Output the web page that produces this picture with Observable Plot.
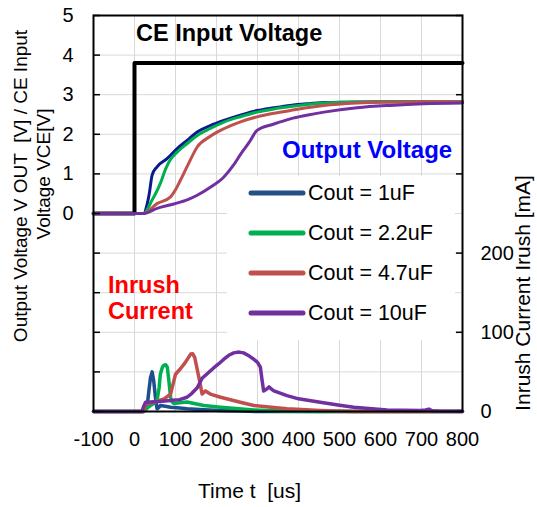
<!DOCTYPE html>
<html><head><meta charset="utf-8">
<script src="https://cdn.jsdelivr.net/npm/d3@7"></script>
<script src="https://cdn.jsdelivr.net/npm/@observablehq/plot@0.6"></script>
<style>body{margin:0;background:#fff}#chart{width:537px;height:507px}</style>
</head><body><div id="chart"></div>
<script>
// ---- axis ticks ----
const xTicks = [-100, 0, 100, 200, 300, 400, 500, 600, 700, 800];
const leftTickLabels = [0, 1, 2, 3, 4, 5];
const leftTickMarks = [-5, -4, -3, -2, -1, 0, 1, 2, 3, 4, 5];
const rightTickLabels = [0, 100, 200];
const rightTickMarks = [0, 100, 200, 300, 400, 500];
const gridVolts = [-5, -4, -3, -2, -1, 0, 1, 2, 3, 4, 5];

// ---- series names / colours ----
const seriesNames = ["Cout = 1uF", "Cout = 2.2uF", "Cout = 4.7uF", "Cout = 10uF"];
const voltColors = ["#0b1a8c", "#00b050", "#c0504d", "#7030a0"];
const currColors = ["#1f4e8c", "#00b050", "#c0504d", "#7030a0"];
const legendColors = ["#254f85", "#00b050", "#c0504d", "#7030a0"];

// ---- CE input voltage [V] ----
const ceT = [-100, 0, 0, 800];
const ceV = [0, 0, 3.8, 3.8];

// ---- output voltage [V] ----
const v1T = [-100, 22, 30, 36, 43, 55, 80, 104, 130, 153, 185, 218, 260, 299, 340, 380, 420, 462, 520, 600, 700, 800];
const v1V = [0, 0, 0.2, 0.5, 0.97, 1.18, 1.39, 1.64, 1.86, 2.06, 2.22, 2.35, 2.49, 2.6, 2.67, 2.73, 2.77, 2.8, 2.81, 2.82, 2.82, 2.82];
const v2T = [-100, 22, 43, 63, 75, 84, 104, 130, 153, 185, 218, 260, 299, 340, 380, 420, 462, 520, 600, 800];
const v2V = [0, 0, 0.34, 0.76, 1.1, 1.3, 1.55, 1.78, 1.97, 2.15, 2.31, 2.45, 2.56, 2.64, 2.7, 2.75, 2.79, 2.81, 2.82, 2.82];
const v3T = [-100, 22, 55, 88, 100, 112, 130, 153, 185, 218, 260, 299, 340, 380, 420, 462, 543, 600, 700, 800];
const v3V = [0, 0, 0.25, 0.42, 0.6, 0.84, 1.22, 1.68, 1.95, 2.14, 2.32, 2.44, 2.53, 2.6, 2.67, 2.73, 2.79, 2.81, 2.82, 2.82];
const v4T = [-100, 22, 55, 96, 130, 153, 185, 218, 240, 259, 280, 299, 340, 380, 420, 462, 543, 624, 705, 800];
const v4V = [0, 0, 0.13, 0.24, 0.35, 0.46, 0.66, 0.92, 1.2, 1.5, 1.8, 2.1, 2.26, 2.39, 2.48, 2.56, 2.67, 2.73, 2.77, 2.79];

// ---- inrush current [mA] ----
const i1T = [-100, 22, 27, 31, 36, 39, 43, 47, 51, 55, 59, 63, 75, 88, 110, 128, 170, 210, 260, 300, 800];
const i1I = [0, 0, 2, 7.5, 30, 43, 50, 38, 18, 3.4, 5, 7.5, 6.5, 5.5, 4.5, 3.4, 2.2, 1.3, 0.6, 0, 0];
const i2T = [-100, 22, 30, 39, 50, 55, 60, 63, 68, 72, 76, 80, 84, 88, 92, 96, 110, 128, 169, 210, 291, 372, 450, 800];
const i2I = [0, 0, 4, 7.5, 11, 14, 30, 47, 56, 58.5, 59, 56, 38, 18, 12, 10, 11, 12, 7.5, 5.5, 2, 0.4, 0, 0];
const i3T = [-100, 22, 27, 50, 72, 88, 100, 112, 124, 137, 142, 147, 157, 165, 173, 185, 210, 258, 291, 340, 372, 453, 535, 800];
const i3I = [0, 0, 9, 12, 16, 22, 47, 54, 62, 72.5, 73, 68, 43, 22, 26, 22, 18, 11.7, 7.5, 5, 3.4, 1.3, 0, 0];
const i4T = [-100, 18, 22, 27, 60, 88, 110, 128, 140, 153, 165, 180, 193, 205, 218, 230, 242, 255, 266, 280, 291, 300, 307, 311, 315, 322, 328, 335, 340, 372, 400, 453, 500, 535, 616, 697, 710, 718, 726, 740, 800];
const i4I = [0, 0, 6, 11.7, 12.5, 13.8, 15, 18, 23, 30, 42, 49, 55, 60, 66, 71, 74, 75, 74, 70, 66, 62, 56, 40, 26, 28, 31, 28, 26, 20, 16, 11.7, 8, 5.5, 2, 1.3, 2, 3, 1, 0.5, 0.4];

// ---- build tables ----
const toV = mA => mA / 50 - 5;          // right axis 0..500 mA maps onto left -5..5 V
const zipV = (T, V) => T.map((t, k) => ({t, v: V[k]}));
const zipI = (T, I) => T.map((t, k) => ({t, v: toV(I[k])}));
const ceData = zipV(ceT, ceV);
const voltData = [zipV(v1T, v1V), zipV(v2T, v2V), zipV(v3T, v3V), zipV(v4T, v4V)];
const currData = [zipI(i1T, i1I), zipI(i2T, i2I), zipI(i3T, i3I), zipI(i4T, i4I)];

const font = "Arial, 'Liberation Sans', sans-serif";

const svg = Plot.plot({
  width: 537, height: 507,
  marginLeft: 93, marginRight: 75, marginTop: 15, marginBottom: 96,
  style: {fontFamily: font, fontSize: "20px", color: "#000", background: "#fff"},
  x: {domain: [-100, 800]},
  y: {domain: [-5, 5]},
  marks: [
    Plot.gridX(xTicks, {stroke: "#d9d9d9", strokeOpacity: 1, strokeWidth: 1}),
    Plot.gridY(gridVolts, {stroke: "#d9d9d9", strokeOpacity: 1, strokeWidth: 1}),
    Plot.line(ceData, {x: "t", y: "v", stroke: "#000", strokeWidth: 4}),
    ...voltData.map((d, k) => Plot.line(d, {x: "t", y: "v", stroke: voltColors[k], strokeWidth: 3, curve: "monotone-x"})),
    ...currData.map((d, k) => Plot.line(d, {x: "t", y: "v", stroke: currColors[k], strokeWidth: 3.5, curve: "linear"})),
    Plot.frame({stroke: "#000", strokeWidth: 2}),
    Plot.axisX(xTicks, {tickSize: 0, tickPadding: 20, label: null, tickFormat: d => String(d)}),
    Plot.axisY(leftTickLabels, {anchor: "left", tickSize: 0, tickPadding: 20, label: null, tickFormat: d => String(d)}),
    Plot.axisY(leftTickMarks, {anchor: "left", tickSize: 7, dx: 7, tickFormat: () => "", label: null, stroke: "#000", strokeWidth: 1.5}),
    Plot.axisY(rightTickLabels.map(toV), {anchor: "right", tickSize: 0, tickPadding: 18, tickFormat: d => String(Math.round((d + 5) * 50)), label: null}),
    Plot.axisY(rightTickMarks.map(toV), {anchor: "right", tickSize: 7, dx: -7, tickFormat: () => "", label: null, stroke: "#000", strokeWidth: 1.5})
  ]
});

const g = d3.select(svg).append("g").attr("font-family", font).attr("text-anchor", "start");

// annotations
g.append("text").attr("x", 136).attr("y", 41).attr("font-size", 23.5).attr("font-weight", "bold").attr("fill", "#000").text("CE Input Voltage");
g.append("text").attr("x", 282).attr("y", 158).attr("font-size", 24).attr("font-weight", "bold").attr("fill", "#0000ff").text("Output Voltage");
g.append("text").attr("x", 108).attr("y", 293).attr("font-size", 23.5).attr("font-weight", "bold").attr("fill", "#ff0000").text("Inrush");
g.append("text").attr("x", 108).attr("y", 319).attr("font-size", 23.5).attr("font-weight", "bold").attr("fill", "#ff0000").text("Current");

// legend
const lg = g.append("g");
lg.append("rect").attr("x", 227).attr("y", 176).attr("width", 228).attr("height", 164).attr("fill", "#fff");
seriesNames.forEach((name, k) => {
  lg.append("line").attr("x1", 251).attr("x2", 303).attr("y1", 193 + 40 * k).attr("y2", 193 + 40 * k)
    .attr("stroke", legendColors[k]).attr("stroke-width", 5).attr("stroke-linecap", "round");
  lg.append("text").attr("x", 308).attr("y", 200 + 40 * k).attr("font-size", 21.5).attr("fill", "#000").text(name);
});

// axis titles
g.append("text").attr("transform", "translate(27,186) rotate(-90)").attr("text-anchor", "middle").attr("font-size", 19).attr("fill", "#000").style("white-space", "pre").text("Output Voltage V OUT  [V] / CE Input");
g.append("text").attr("transform", "translate(50,174) rotate(-90)").attr("text-anchor", "middle").attr("font-size", 19).attr("fill", "#000").text("Voltage VCE[V]");
g.append("text").attr("transform", "translate(530,293) rotate(-90)").attr("text-anchor", "middle").attr("font-size", 21).attr("fill", "#000").text("Inrush Current Irush [mA]");
g.append("text").attr("x", 198).attr("y", 498).attr("font-size", 21).attr("fill", "#000").style("white-space", "pre").text("Time t  [us]");

document.getElementById("chart").appendChild(svg);
</script>
</body></html>
